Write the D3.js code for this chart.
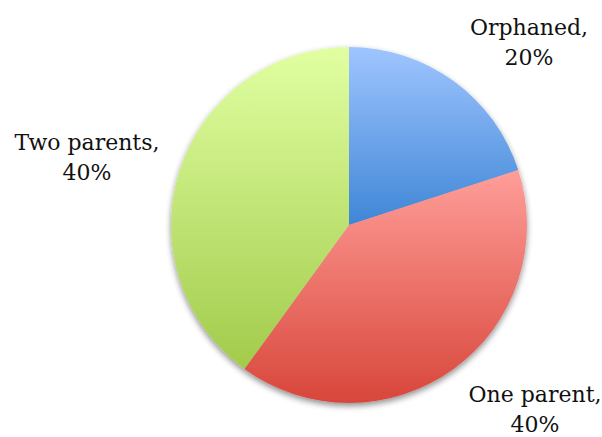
<!DOCTYPE html>
<html>
<head>
<meta charset="utf-8">
<script src="https://cdn.jsdelivr.net/npm/d3@7"></script>
<style>
  body { margin: 0; background: #fff; }
  text { font-family: "DejaVu Serif", serif; fill: #111; }
</style>
</head>
<body>
<script>
const categories = ["Orphaned", "One parent", "Two parents"];
const values = [20, 40, 40];
const topColors = ["#9fc5ff", "#ff9e99", "#e1ffa2"];
const bottomColors = ["#3f86d6", "#d8463a", "#a2cb4b"];

const width = 602, height = 437;
const cx = 349, cy = 225, radius = 178;

const svg = d3.select("body").append("svg")
    .attr("width", width)
    .attr("height", height);

const defs = svg.append("defs");

const shadow = defs.append("filter")
    .attr("id", "shadow")
    .attr("x", "-20%").attr("y", "-20%")
    .attr("width", "140%").attr("height", "140%");
shadow.append("feGaussianBlur").attr("in", "SourceAlpha").attr("stdDeviation", 3);
shadow.append("feOffset").attr("dx", 0).attr("dy", 3).attr("result", "off");
shadow.append("feComponentTransfer").append("feFuncA").attr("type", "linear").attr("slope", 0.45);
const merge = shadow.append("feMerge");
merge.append("feMergeNode");
merge.append("feMergeNode").attr("in", "SourceGraphic");

categories.forEach((c, i) => {
    const g = defs.append("linearGradient")
        .attr("id", "grad" + i)
        .attr("x1", 0).attr("y1", 0).attr("x2", 0).attr("y2", 1);
    g.append("stop").attr("offset", "0%").attr("stop-color", topColors[i]);
    g.append("stop").attr("offset", "100%").attr("stop-color", bottomColors[i]);
});

const pie = d3.pie().sort(null).value(d => d);
const arc = d3.arc().innerRadius(0).outerRadius(radius);
const arcs = pie(values);

const g = svg.append("g")
    .attr("transform", `translate(${cx},${cy})`)
    .attr("filter", "url(#shadow)");

g.selectAll("path")
    .data(arcs)
    .enter().append("path")
    .attr("d", arc)
    .attr("fill", (d, i) => `url(#grad${i})`);

// labels: name on first line, percent on second
const labelPos = [[529, 35], [535, 402], [87, 150]];
const total = d3.sum(values);

categories.forEach((c, i) => {
    const t = svg.append("text")
        .attr("text-anchor", "middle")
        .attr("font-size", 22);
    t.append("tspan")
        .attr("x", labelPos[i][0]).attr("y", labelPos[i][1])
        .text(c + ",");
    t.append("tspan")
        .attr("x", labelPos[i][0]).attr("y", labelPos[i][1] + 30)
        .text(Math.round(values[i] / total * 100) + "%");
});
</script>
</body>
</html>
